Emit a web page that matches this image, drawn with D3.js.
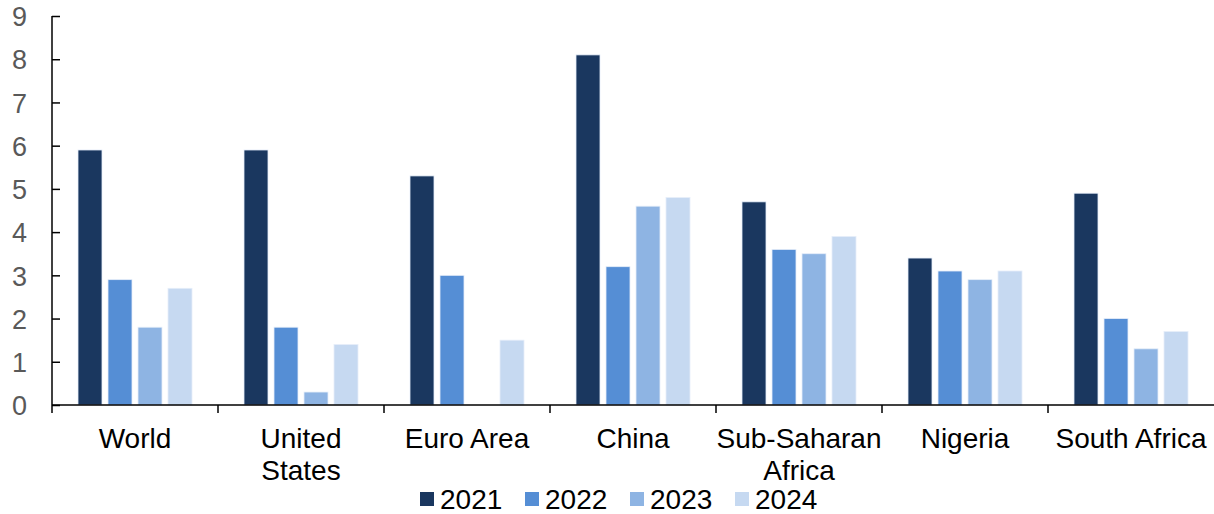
<!DOCTYPE html>
<html>
<head>
<meta charset="utf-8">
<script src="https://cdn.jsdelivr.net/npm/d3@7"></script>
<style>
  body { margin: 0; background: #fff; }
  svg text { font-family: "Liberation Sans", Arial, sans-serif; }
</style>
</head>
<body>
<svg id="chart" width="1214" height="514"></svg>
<script>
var categories = [["World"], ["United", "States"], ["Euro Area"], ["China"], ["Sub-Saharan", "Africa"], ["Nigeria"], ["South Africa"]];
var years = ["2021", "2022", "2023", "2024"];
var v2021 = [5.9, 5.9, 5.3, 8.1, 4.7, 3.4, 4.9];
var v2022 = [2.9, 1.8, 3.0, 3.2, 3.6, 3.1, 2.0];
var v2023 = [1.8, 0.3, null, 4.6, 3.5, 2.9, 1.3];
var v2024 = [2.7, 1.4, 1.5, 4.8, 3.9, 3.1, 1.7];
var yTicks = [0, 1, 2, 3, 4, 5, 6, 7, 8, 9];
var colors = ["#1a375f", "#558ed5", "#8eb4e3", "#c6d9f1"];

var series = [v2021, v2022, v2023, v2024];
var svg = d3.select("#chart");
var plotLeft = 52, plotRight = 1214, plotTop = 16, plotBottom = 405;

var x = d3.scaleBand().domain(d3.range(categories.length)).range([plotLeft, plotRight]);
var y = d3.scaleLinear().domain([0, 9]).range([plotBottom, plotTop]);
// inner scale for the four years in a group
var x1 = d3.scaleBand().domain(d3.range(years.length))
  .range([26, x.bandwidth() - 26]).paddingInner(0.2);

var groups = svg.append("g").selectAll("g")
  .data(categories)
  .enter().append("g")
  .attr("transform", function(d, i) { return "translate(" + x(i) + ",0)"; });

groups.selectAll("rect")
  .data(function(d, i) {
    return series.map(function(s, k) { return {k: k, v: s[i]}; }).filter(function(e) { return e.v != null; });
  })
  .enter().append("rect")
  .attr("x", function(d) { return x1(d.k); })
  .attr("width", x1.bandwidth())
  .attr("y", function(d) { return y(d.v); })
  .attr("height", function(d) { return plotBottom - y(d.v); })
  .attr("fill", function(d) { return colors[d.k]; })
  .attr("stroke", "#e6eef9")
  .attr("stroke-width", 0.8);

// y axis
var yAxis = svg.append("g")
  .attr("transform", "translate(" + plotLeft + ",0)")
  .call(d3.axisRight(y).tickValues(yTicks).tickSize(8).tickFormat(d3.format("d")));
yAxis.select(".domain").attr("stroke", "#000").attr("stroke-width", 1.5).attr("d", "M0," + plotTop + "V" + plotBottom);
yAxis.selectAll(".tick line").attr("stroke", "#000").attr("stroke-width", 1.5);
yAxis.selectAll(".tick text")
  .attr("x", -25).attr("text-anchor", "end").attr("dy", "0.36em")
  .attr("fill", "#595959").style("font-size", "27px");

// x axis with ticks on band edges
var xAxis = svg.append("g");
xAxis.append("line")
  .attr("x1", plotLeft).attr("x2", plotRight).attr("y1", plotBottom).attr("y2", plotBottom)
  .attr("stroke", "#000").attr("stroke-width", 1.5);
xAxis.selectAll("line.tk")
  .data(d3.range(categories.length))
  .enter().append("line").attr("class", "tk")
  .attr("x1", function(i) { return x(i); }).attr("x2", function(i) { return x(i); })
  .attr("y1", plotBottom).attr("y2", plotBottom + 8)
  .attr("stroke", "#000").attr("stroke-width", 1.5);

var labels = xAxis.selectAll("text")
  .data(categories)
  .enter().append("text")
  .attr("text-anchor", "middle")
  .attr("fill", "#000")
  .style("font-size", "28px")
  .attr("transform", function(d, i) { return "translate(" + (x(i) + x.bandwidth() / 2) + "," + 448 + ")"; });
labels.selectAll("tspan")
  .data(function(d) { return d; })
  .enter().append("tspan")
  .attr("x", 0)
  .attr("y", function(d, j) { return j * 32; })
  .text(function(d) { return d; });

// legend
var legend = svg.append("g").selectAll("g")
  .data(years)
  .enter().append("g")
  .attr("transform", function(d, i) { return "translate(" + (420 + i * 105) + ",492)"; });
legend.append("rect")
  .attr("width", 14).attr("height", 14)
  .attr("fill", function(d, i) { return colors[i]; });
legend.append("text")
  .attr("x", 20).attr("y", 17)
  .style("font-size", "28px")
  .attr("fill", "#000")
  .text(function(d) { return d; });
</script>
</body>
</html>
